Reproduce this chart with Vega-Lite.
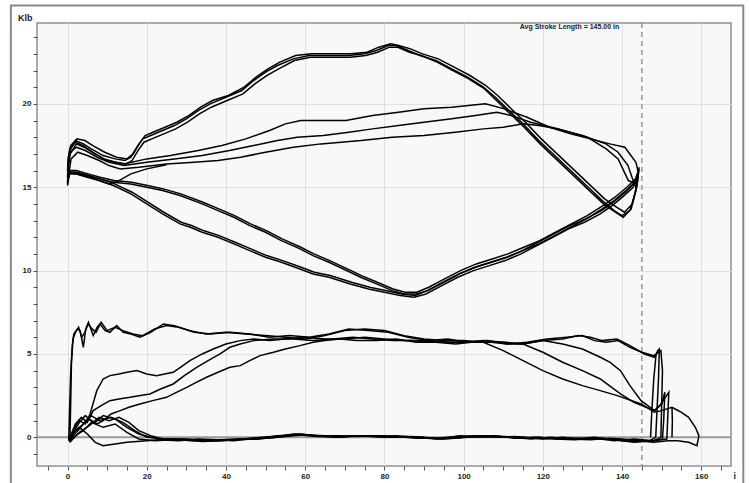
{
"$schema":"https://vega.github.io/schema/vega-lite/v6.json",
"width":694,"height":443,
"autosize":{"type":"none"},
"padding":{"left":37,"top":23,"right":18,"bottom":17},
"background":"#ffffff",
"config":{"view":{"stroke":"#8f8f8f","strokeWidth":1.5,"fill":"#f8f8f8"}},
"resolve":{"axis":{"x":"independent","y":"independent"}},
"datasets":{
"frame":[{"x":-14.3,"x2":170.6,"y":25.9,"y2":-4}],
"note":[{"label":"Avg Stroke Length = 145.00 in","x":139.3,"y":24.6}],
"zero":[{"y":0}],
"stroke":[{"x":145}],
"lines":[
{"s":"PK1","x":0,"y":15.2},{"s":"PK1","x":0.2,"y":16.4},{"s":"PK1","x":0.6,"y":17.2},{"s":"PK1","x":2,"y":17.8},{"s":"PK1","x":4,"y":17.6},{"s":"PK1","x":6,"y":17.3},{"s":"PK1","x":9,"y":16.9},{"s":"PK1","x":12,"y":16.7},{"s":"PK1","x":14.5,"y":16.6},{"s":"PK1","x":16,"y":16.8},{"s":"PK1","x":17.5,"y":17.4},{"s":"PK1","x":19,"y":17.9},{"s":"PK1","x":21,"y":18.1},{"s":"PK1","x":24,"y":18.4},{"s":"PK1","x":27,"y":18.7},{"s":"PK1","x":30,"y":19.1},{"s":"PK1","x":33,"y":19.6},{"s":"PK1","x":36,"y":20.0},{"s":"PK1","x":40,"y":20.4},{"s":"PK1","x":44,"y":20.8},{"s":"PK1","x":47,"y":21.4},{"s":"PK1","x":50,"y":21.9},{"s":"PK1","x":53,"y":22.3},{"s":"PK1","x":57,"y":22.7},{"s":"PK1","x":61,"y":22.9},{"s":"PK1","x":66,"y":22.9},{"s":"PK1","x":71,"y":22.9},{"s":"PK1","x":75,"y":23.0},{"s":"PK1","x":78,"y":23.2},{"s":"PK1","x":81,"y":23.5},{"s":"PK1","x":83,"y":23.5},{"s":"PK1","x":86,"y":23.2},{"s":"PK1","x":89,"y":22.9},{"s":"PK1","x":93,"y":22.6},{"s":"PK1","x":97,"y":22.1},{"s":"PK1","x":101,"y":21.6},{"s":"PK1","x":105,"y":21.0},{"s":"PK1","x":108,"y":20.4},{"s":"PK1","x":111,"y":19.7},{"s":"PK1","x":115,"y":18.8},{"s":"PK1","x":119,"y":17.8},{"s":"PK1","x":123,"y":16.9},{"s":"PK1","x":127,"y":16.0},{"s":"PK1","x":131,"y":15.1},{"s":"PK1","x":135,"y":14.2},{"s":"PK1","x":138,"y":13.6},{"s":"PK1","x":140,"y":13.3},{"s":"PK1","x":142,"y":13.6},{"s":"PK1","x":143.5,"y":14.8},{"s":"PK1","x":144,"y":15.8},
{"s":"PK2","x":0,"y":15.6},{"s":"PK2","x":0.2,"y":16.6},{"s":"PK2","x":0.7,"y":17.0},{"s":"PK2","x":2.2,"y":17.6},{"s":"PK2","x":4.2,"y":17.4},{"s":"PK2","x":6.2,"y":17.1},{"s":"PK2","x":9.2,"y":16.7},{"s":"PK2","x":12.2,"y":16.5},{"s":"PK2","x":14.8,"y":16.4},{"s":"PK2","x":16.3,"y":16.6},{"s":"PK2","x":17.8,"y":17.2},{"s":"PK2","x":19.3,"y":17.7},{"s":"PK2","x":21.3,"y":17.9},{"s":"PK2","x":24.3,"y":18.2},{"s":"PK2","x":27.3,"y":18.5},{"s":"PK2","x":30.3,"y":18.9},{"s":"PK2","x":33.3,"y":19.4},{"s":"PK2","x":36.3,"y":19.8},{"s":"PK2","x":40.3,"y":20.2},{"s":"PK2","x":44.3,"y":20.6},{"s":"PK2","x":47.3,"y":21.2},{"s":"PK2","x":50.3,"y":21.7},{"s":"PK2","x":53.3,"y":22.1},{"s":"PK2","x":57.3,"y":22.6},{"s":"PK2","x":61.3,"y":22.8},{"s":"PK2","x":66.3,"y":22.8},{"s":"PK2","x":71.3,"y":22.8},{"s":"PK2","x":75.3,"y":22.9},{"s":"PK2","x":78.3,"y":23.1},{"s":"PK2","x":81.3,"y":23.4},{"s":"PK2","x":83.3,"y":23.4},{"s":"PK2","x":86.3,"y":23.1},{"s":"PK2","x":89.3,"y":22.9},{"s":"PK2","x":93.3,"y":22.5},{"s":"PK2","x":97.3,"y":22.0},{"s":"PK2","x":101.3,"y":21.5},{"s":"PK2","x":105.3,"y":20.9},{"s":"PK2","x":108.3,"y":20.2},{"s":"PK2","x":111.3,"y":19.5},{"s":"PK2","x":115.3,"y":18.6},{"s":"PK2","x":119.3,"y":17.6},{"s":"PK2","x":123.3,"y":16.7},{"s":"PK2","x":127.3,"y":15.8},{"s":"PK2","x":131.3,"y":14.9},{"s":"PK2","x":135.3,"y":14.0},{"s":"PK2","x":138.3,"y":13.5},{"s":"PK2","x":140.3,"y":13.2},{"s":"PK2","x":142.3,"y":13.7},{"s":"PK2","x":143.7,"y":15.0},{"s":"PK2","x":144.2,"y":16.0},
{"s":"PK3","x":0,"y":16.0},{"s":"PK3","x":0.2,"y":16.8},{"s":"PK3","x":0.8,"y":17.5},{"s":"PK3","x":2.4,"y":17.9},{"s":"PK3","x":4.4,"y":17.8},{"s":"PK3","x":6.4,"y":17.5},{"s":"PK3","x":9.4,"y":17.1},{"s":"PK3","x":12.4,"y":16.8},{"s":"PK3","x":15,"y":16.7},{"s":"PK3","x":16.6,"y":17.0},{"s":"PK3","x":18.1,"y":17.6},{"s":"PK3","x":19.6,"y":18.1},{"s":"PK3","x":21.6,"y":18.3},{"s":"PK3","x":24.6,"y":18.6},{"s":"PK3","x":27.6,"y":18.9},{"s":"PK3","x":30.6,"y":19.3},{"s":"PK3","x":33.6,"y":19.8},{"s":"PK3","x":36.6,"y":20.2},{"s":"PK3","x":40.6,"y":20.5},{"s":"PK3","x":44.6,"y":21.0},{"s":"PK3","x":47.6,"y":21.6},{"s":"PK3","x":50.6,"y":22.1},{"s":"PK3","x":53.6,"y":22.5},{"s":"PK3","x":57.6,"y":22.9},{"s":"PK3","x":61.6,"y":23.0},{"s":"PK3","x":66.6,"y":23.0},{"s":"PK3","x":71.6,"y":23.0},{"s":"PK3","x":75.6,"y":23.1},{"s":"PK3","x":78.6,"y":23.4},{"s":"PK3","x":81.6,"y":23.6},{"s":"PK3","x":83.6,"y":23.5},{"s":"PK3","x":86.6,"y":23.3},{"s":"PK3","x":89.6,"y":23.0},{"s":"PK3","x":93.6,"y":22.7},{"s":"PK3","x":97.6,"y":22.2},{"s":"PK3","x":101.6,"y":21.7},{"s":"PK3","x":105.6,"y":21.1},{"s":"PK3","x":108.6,"y":20.5},{"s":"PK3","x":111.6,"y":19.8},{"s":"PK3","x":115.6,"y":18.9},{"s":"PK3","x":119.6,"y":17.9},{"s":"PK3","x":123.6,"y":17.0},{"s":"PK3","x":127.6,"y":16.1},{"s":"PK3","x":131.6,"y":15.2},{"s":"PK3","x":135.6,"y":14.3},{"s":"PK3","x":138.6,"y":13.8},{"s":"PK3","x":140.6,"y":13.5},{"s":"PK3","x":142.6,"y":14.0},{"s":"PK3","x":143.9,"y":15.3},{"s":"PK3","x":144.3,"y":16.2},
{"s":"TR1","x":144,"y":15.8},{"s":"TR1","x":143.2,"y":15.3},{"s":"TR1","x":141,"y":14.8},{"s":"TR1","x":138,"y":14.2},{"s":"TR1","x":135,"y":13.7},{"s":"TR1","x":131,"y":13.1},{"s":"TR1","x":127,"y":12.6},{"s":"TR1","x":123,"y":12.1},{"s":"TR1","x":119,"y":11.6},{"s":"TR1","x":115,"y":11.2},{"s":"TR1","x":111,"y":10.8},{"s":"TR1","x":107,"y":10.5},{"s":"TR1","x":103,"y":10.2},{"s":"TR1","x":99,"y":9.8},{"s":"TR1","x":95,"y":9.3},{"s":"TR1","x":91,"y":8.8},{"s":"TR1","x":88,"y":8.6},{"s":"TR1","x":85,"y":8.6},{"s":"TR1","x":82,"y":8.8},{"s":"TR1","x":78,"y":9.2},{"s":"TR1","x":74,"y":9.6},{"s":"TR1","x":71.4,"y":9.9},{"s":"TR1","x":66,"y":10.5},{"s":"TR1","x":62,"y":10.9},{"s":"TR1","x":58.7,"y":11.3},{"s":"TR1","x":54,"y":11.8},{"s":"TR1","x":50,"y":12.3},{"s":"TR1","x":46,"y":12.7},{"s":"TR1","x":42,"y":13.2},{"s":"TR1","x":38,"y":13.6},{"s":"TR1","x":34,"y":14.0},{"s":"TR1","x":28.4,"y":14.5},{"s":"TR1","x":24,"y":14.8},{"s":"TR1","x":20,"y":15.0},{"s":"TR1","x":16,"y":15.2},{"s":"TR1","x":11.6,"y":15.3},{"s":"TR1","x":8,"y":15.5},{"s":"TR1","x":5,"y":15.7},{"s":"TR1","x":2,"y":15.9},{"s":"TR1","x":0.5,"y":15.9},{"s":"TR1","x":0,"y":15.3},
{"s":"TR2","x":144.3,"y":16.1},{"s":"TR2","x":143.4,"y":15.5},{"s":"TR2","x":141.2,"y":15.0},{"s":"TR2","x":138.2,"y":14.4},{"s":"TR2","x":135.2,"y":13.9},{"s":"TR2","x":131.2,"y":13.3},{"s":"TR2","x":127.2,"y":12.8},{"s":"TR2","x":123.2,"y":12.3},{"s":"TR2","x":119.2,"y":11.8},{"s":"TR2","x":115.2,"y":11.4},{"s":"TR2","x":111.2,"y":11.0},{"s":"TR2","x":107.2,"y":10.7},{"s":"TR2","x":103.2,"y":10.4},{"s":"TR2","x":99.2,"y":10.0},{"s":"TR2","x":95.2,"y":9.5},{"s":"TR2","x":91.2,"y":9.0},{"s":"TR2","x":88.2,"y":8.7},{"s":"TR2","x":85.2,"y":8.7},{"s":"TR2","x":82.2,"y":8.9},{"s":"TR2","x":78.2,"y":9.3},{"s":"TR2","x":74.2,"y":9.7},{"s":"TR2","x":71.6,"y":10.0},{"s":"TR2","x":66.2,"y":10.6},{"s":"TR2","x":62.2,"y":11.0},{"s":"TR2","x":58.9,"y":11.4},{"s":"TR2","x":54.2,"y":11.9},{"s":"TR2","x":50.2,"y":12.4},{"s":"TR2","x":46.2,"y":12.8},{"s":"TR2","x":42.2,"y":13.3},{"s":"TR2","x":38.2,"y":13.7},{"s":"TR2","x":34.2,"y":14.1},{"s":"TR2","x":28.6,"y":14.6},{"s":"TR2","x":24.2,"y":14.9},{"s":"TR2","x":20.2,"y":15.1},{"s":"TR2","x":16.2,"y":15.3},{"s":"TR2","x":11.8,"y":15.4},{"s":"TR2","x":8.2,"y":15.6},{"s":"TR2","x":5.2,"y":15.8},{"s":"TR2","x":2.2,"y":16.0},{"s":"TR2","x":0.6,"y":16.0},{"s":"TR2","x":0,"y":15.6},
{"s":"TR3","x":143.8,"y":15.6},{"s":"TR3","x":142.8,"y":15.0},{"s":"TR3","x":140.5,"y":14.5},{"s":"TR3","x":137.5,"y":13.9},{"s":"TR3","x":134.5,"y":13.4},{"s":"TR3","x":130.5,"y":12.9},{"s":"TR3","x":126.5,"y":12.5},{"s":"TR3","x":122.5,"y":12.0},{"s":"TR3","x":118.5,"y":11.5},{"s":"TR3","x":114.5,"y":11.0},{"s":"TR3","x":110.5,"y":10.6},{"s":"TR3","x":106.5,"y":10.3},{"s":"TR3","x":102.5,"y":10.0},{"s":"TR3","x":98.5,"y":9.6},{"s":"TR3","x":94.5,"y":9.1},{"s":"TR3","x":90.5,"y":8.6},{"s":"TR3","x":87.5,"y":8.4},{"s":"TR3","x":84,"y":8.5},{"s":"TR3","x":80,"y":8.7},{"s":"TR3","x":76,"y":8.9},{"s":"TR3","x":71.4,"y":9.2},{"s":"TR3","x":66,"y":9.6},{"s":"TR3","x":62,"y":9.8},{"s":"TR3","x":58.7,"y":10.1},{"s":"TR3","x":54,"y":10.5},{"s":"TR3","x":50,"y":10.8},{"s":"TR3","x":46,"y":11.2},{"s":"TR3","x":42,"y":11.6},{"s":"TR3","x":38,"y":12.0},{"s":"TR3","x":34,"y":12.3},{"s":"TR3","x":31,"y":12.6},{"s":"TR3","x":28.4,"y":12.8},{"s":"TR3","x":24,"y":13.4},{"s":"TR3","x":20,"y":14.0},{"s":"TR3","x":16,"y":14.6},{"s":"TR3","x":11.6,"y":15.1},{"s":"TR3","x":8,"y":15.4},{"s":"TR3","x":5,"y":15.6},{"s":"TR3","x":2,"y":15.8},{"s":"TR3","x":0.5,"y":15.8},{"s":"TR3","x":0,"y":15.1},
{"s":"TR4","x":144.1,"y":15.9},{"s":"TR4","x":143,"y":15.2},{"s":"TR4","x":140.8,"y":14.7},{"s":"TR4","x":137.8,"y":14.1},{"s":"TR4","x":134.8,"y":13.6},{"s":"TR4","x":130.8,"y":13.1},{"s":"TR4","x":126.8,"y":12.7},{"s":"TR4","x":122.8,"y":12.2},{"s":"TR4","x":118.8,"y":11.7},{"s":"TR4","x":114.8,"y":11.2},{"s":"TR4","x":110.8,"y":10.8},{"s":"TR4","x":106.8,"y":10.5},{"s":"TR4","x":102.8,"y":10.2},{"s":"TR4","x":98.8,"y":9.8},{"s":"TR4","x":94.8,"y":9.3},{"s":"TR4","x":90.8,"y":8.8},{"s":"TR4","x":87.8,"y":8.5},{"s":"TR4","x":84.3,"y":8.6},{"s":"TR4","x":80.3,"y":8.8},{"s":"TR4","x":76.3,"y":9.0},{"s":"TR4","x":71.7,"y":9.3},{"s":"TR4","x":66.3,"y":9.7},{"s":"TR4","x":62.3,"y":9.9},{"s":"TR4","x":59,"y":10.2},{"s":"TR4","x":54.3,"y":10.6},{"s":"TR4","x":50.3,"y":10.9},{"s":"TR4","x":46.3,"y":11.3},{"s":"TR4","x":42.3,"y":11.7},{"s":"TR4","x":38.3,"y":12.1},{"s":"TR4","x":34.3,"y":12.4},{"s":"TR4","x":31.3,"y":12.7},{"s":"TR4","x":28.7,"y":12.9},{"s":"TR4","x":24.3,"y":13.5},{"s":"TR4","x":20.3,"y":14.1},{"s":"TR4","x":16.3,"y":14.7},{"s":"TR4","x":11.9,"y":15.2},{"s":"TR4","x":8.3,"y":15.5},{"s":"TR4","x":5.3,"y":15.7},{"s":"TR4","x":2.3,"y":15.9},{"s":"TR4","x":0.7,"y":15.9},{"s":"TR4","x":0,"y":15.4},
{"s":"L1","x":0.2,"y":16.6},{"s":"L1","x":0.6,"y":17.3},{"s":"L1","x":2,"y":17.7},{"s":"L1","x":4,"y":17.5},{"s":"L1","x":7,"y":17.0},{"s":"L1","x":10,"y":16.6},{"s":"L1","x":14.3,"y":16.4},{"s":"L1","x":20,"y":16.7},{"s":"L1","x":26,"y":16.9},{"s":"L1","x":33,"y":17.2},{"s":"L1","x":39,"y":17.5},{"s":"L1","x":45,"y":17.9},{"s":"L1","x":51,"y":18.4},{"s":"L1","x":55,"y":18.8},{"s":"L1","x":58.9,"y":19.0},{"s":"L1","x":64,"y":19.0},{"s":"L1","x":70.3,"y":19.0},{"s":"L1","x":77,"y":19.3},{"s":"L1","x":83.6,"y":19.5},{"s":"L1","x":90,"y":19.7},{"s":"L1","x":97,"y":19.8},{"s":"L1","x":105.5,"y":20.0},{"s":"L1","x":110.3,"y":19.7},{"s":"L1","x":116,"y":19.2},{"s":"L1","x":121.7,"y":18.6},{"s":"L1","x":127,"y":18.2},{"s":"L1","x":132,"y":17.9},{"s":"L1","x":136.9,"y":17.6},{"s":"L1","x":140.7,"y":17.4},{"s":"L1","x":143.5,"y":16.5},{"s":"L1","x":144,"y":16.0},{"s":"L1","x":143.8,"y":15.4},
{"s":"L2","x":0.3,"y":16.3},{"s":"L2","x":0.7,"y":17.1},{"s":"L2","x":2.2,"y":17.4},{"s":"L2","x":4.5,"y":17.2},{"s":"L2","x":7.5,"y":16.8},{"s":"L2","x":10.5,"y":16.5},{"s":"L2","x":14.3,"y":16.3},{"s":"L2","x":20,"y":16.5},{"s":"L2","x":27,"y":16.7},{"s":"L2","x":34,"y":16.9},{"s":"L2","x":40.9,"y":17.2},{"s":"L2","x":47,"y":17.5},{"s":"L2","x":53,"y":17.8},{"s":"L2","x":58,"y":18.0},{"s":"L2","x":64.6,"y":18.1},{"s":"L2","x":71,"y":18.3},{"s":"L2","x":77,"y":18.5},{"s":"L2","x":83.6,"y":18.7},{"s":"L2","x":90,"y":18.9},{"s":"L2","x":97,"y":19.1},{"s":"L2","x":103,"y":19.3},{"s":"L2","x":108.4,"y":19.5},{"s":"L2","x":112,"y":19.3},{"s":"L2","x":116.9,"y":18.9},{"s":"L2","x":124,"y":18.5},{"s":"L2","x":131.2,"y":18.0},{"s":"L2","x":136,"y":17.3},{"s":"L2","x":139,"y":16.7},{"s":"L2","x":141.6,"y":15.4},{"s":"L2","x":143.5,"y":15.2},
{"s":"L3","x":0.4,"y":15.9},{"s":"L3","x":0.9,"y":16.7},{"s":"L3","x":2.6,"y":17.1},{"s":"L3","x":5,"y":16.9},{"s":"L3","x":8,"y":16.6},{"s":"L3","x":10.5,"y":16.3},{"s":"L3","x":13.3,"y":16.1},{"s":"L3","x":18,"y":16.2},{"s":"L3","x":25,"y":16.4},{"s":"L3","x":32,"y":16.5},{"s":"L3","x":38,"y":16.6},{"s":"L3","x":43.7,"y":16.8},{"s":"L3","x":50,"y":17.1},{"s":"L3","x":57,"y":17.4},{"s":"L3","x":64,"y":17.6},{"s":"L3","x":74.1,"y":17.8},{"s":"L3","x":82,"y":18.0},{"s":"L3","x":90,"y":18.1},{"s":"L3","x":97.9,"y":18.3},{"s":"L3","x":105,"y":18.5},{"s":"L3","x":110,"y":18.6},{"s":"L3","x":115,"y":18.8},{"s":"L3","x":119,"y":18.7},{"s":"L3","x":123.6,"y":18.5},{"s":"L3","x":130,"y":18.1},{"s":"L3","x":135.9,"y":17.6},{"s":"L3","x":139,"y":17.1},{"s":"L3","x":141.5,"y":16.3},{"s":"L3","x":142.5,"y":15.6},{"s":"L3","x":143.5,"y":15.0},
{"s":"X1","x":0.5,"y":15.9},{"s":"X1","x":4,"y":15.7},{"s":"X1","x":8,"y":15.4},{"s":"X1","x":10.5,"y":15.2},{"s":"X1","x":13,"y":15.4},{"s":"X1","x":16,"y":15.8},{"s":"X1","x":20,"y":16.1},{"s":"X1","x":25,"y":16.35},
{"s":"PT1","x":0.3,"y":-0.2},{"s":"PT1","x":0.5,"y":1.5},{"s":"PT1","x":0.8,"y":3.8},{"s":"PT1","x":1.2,"y":5.5},{"s":"PT1","x":1.6,"y":6.2},{"s":"PT1","x":2.5,"y":6.5},{"s":"PT1","x":3.2,"y":6.4},{"s":"PT1","x":4,"y":5.4},{"s":"PT1","x":4.6,"y":6.5},{"s":"PT1","x":5.3,"y":6.9},{"s":"PT1","x":6.5,"y":6.1},{"s":"PT1","x":7.5,"y":6.6},{"s":"PT1","x":8.2,"y":6.8},{"s":"PT1","x":9.5,"y":6.4},{"s":"PT1","x":10.7,"y":6.3},{"s":"PT1","x":12.4,"y":6.7},{"s":"PT1","x":14.1,"y":6.3},{"s":"PT1","x":16,"y":6.2},{"s":"PT1","x":18.3,"y":6.0},{"s":"PT1","x":21,"y":6.3},{"s":"PT1","x":24.2,"y":6.8},{"s":"PT1","x":27,"y":6.7},{"s":"PT1","x":30.9,"y":6.4},{"s":"PT1","x":35,"y":6.2},{"s":"PT1","x":40,"y":6.3},{"s":"PT1","x":45,"y":6.2},{"s":"PT1","x":50,"y":6.1},{"s":"PT1","x":55,"y":6.0},{"s":"PT1","x":60,"y":5.9},{"s":"PT1","x":65,"y":6.1},{"s":"PT1","x":70,"y":6.4},{"s":"PT1","x":75,"y":6.5},{"s":"PT1","x":80,"y":6.4},{"s":"PT1","x":85,"y":6.1},{"s":"PT1","x":90,"y":5.9},{"s":"PT1","x":95,"y":5.8},{"s":"PT1","x":100,"y":5.8},{"s":"PT1","x":105,"y":5.7},{"s":"PT1","x":110,"y":5.7},{"s":"PT1","x":115,"y":5.6},{"s":"PT1","x":120,"y":5.8},{"s":"PT1","x":125,"y":5.9},{"s":"PT1","x":129,"y":6.1},{"s":"PT1","x":132,"y":6.0},{"s":"PT1","x":135,"y":5.8},{"s":"PT1","x":138.7,"y":5.9},{"s":"PT1","x":142,"y":5.5},{"s":"PT1","x":145.6,"y":5.0},{"s":"PT1","x":148.2,"y":4.8},{"s":"PT1","x":149,"y":5.2},{"s":"PT1","x":149.4,"y":5.3},{"s":"PT1","x":149.2,"y":3.5},{"s":"PT1","x":148.8,"y":1.5},{"s":"PT1","x":148.5,"y":0.0},{"s":"PT1","x":147,"y":-0.2},{"s":"PT1","x":144,"y":-0.25},{"s":"PT1","x":140,"y":-0.2},{"s":"PT1","x":135,"y":-0.05},{"s":"PT1","x":130,"y":-0.1},{"s":"PT1","x":125,"y":0.0},{"s":"PT1","x":120,"y":-0.1},{"s":"PT1","x":115,"y":0.0},{"s":"PT1","x":110,"y":0.05},{"s":"PT1","x":105,"y":0.1},{"s":"PT1","x":100,"y":0.0},{"s":"PT1","x":95,"y":-0.1},{"s":"PT1","x":90,"y":0.0},{"s":"PT1","x":85,"y":0.05},{"s":"PT1","x":80,"y":0.0},{"s":"PT1","x":75,"y":0.1},{"s":"PT1","x":70,"y":0.05},{"s":"PT1","x":65,"y":0.1},{"s":"PT1","x":60,"y":0.15},{"s":"PT1","x":55,"y":0.05},{"s":"PT1","x":50,"y":-0.05},{"s":"PT1","x":45,"y":-0.1},{"s":"PT1","x":40,"y":-0.15},{"s":"PT1","x":35,"y":-0.2},{"s":"PT1","x":30,"y":-0.1},{"s":"PT1","x":25,"y":-0.1},{"s":"PT1","x":20,"y":0.0},{"s":"PT1","x":17,"y":0.4},{"s":"PT1","x":14,"y":0.9},{"s":"PT1","x":11,"y":1.2},{"s":"PT1","x":8,"y":1.0},{"s":"PT1","x":6,"y":1.3},{"s":"PT1","x":4,"y":0.8},{"s":"PT1","x":2,"y":0.4},{"s":"PT1","x":0.3,"y":-0.2},
{"s":"PT2","x":0.6,"y":-0.3},{"s":"PT2","x":0.8,"y":2.0},{"s":"PT2","x":1.0,"y":4.5},{"s":"PT2","x":1.4,"y":5.9},{"s":"PT2","x":2,"y":6.3},{"s":"PT2","x":2.8,"y":6.6},{"s":"PT2","x":3.6,"y":6.0},{"s":"PT2","x":4.4,"y":6.3},{"s":"PT2","x":5.2,"y":6.8},{"s":"PT2","x":6.2,"y":6.5},{"s":"PT2","x":7.2,"y":6.3},{"s":"PT2","x":8.5,"y":6.9},{"s":"PT2","x":10,"y":6.4},{"s":"PT2","x":12,"y":6.6},{"s":"PT2","x":14,"y":6.4},{"s":"PT2","x":16.5,"y":6.2},{"s":"PT2","x":19,"y":6.1},{"s":"PT2","x":22,"y":6.5},{"s":"PT2","x":25,"y":6.7},{"s":"PT2","x":28,"y":6.6},{"s":"PT2","x":32,"y":6.3},{"s":"PT2","x":36,"y":6.2},{"s":"PT2","x":41,"y":6.3},{"s":"PT2","x":46,"y":6.2},{"s":"PT2","x":51,"y":6.0},{"s":"PT2","x":56,"y":6.1},{"s":"PT2","x":61,"y":6.0},{"s":"PT2","x":66,"y":6.2},{"s":"PT2","x":71,"y":6.5},{"s":"PT2","x":76,"y":6.4},{"s":"PT2","x":81,"y":6.3},{"s":"PT2","x":86,"y":6.0},{"s":"PT2","x":91,"y":5.8},{"s":"PT2","x":96,"y":5.9},{"s":"PT2","x":101,"y":5.7},{"s":"PT2","x":106,"y":5.8},{"s":"PT2","x":111,"y":5.6},{"s":"PT2","x":116,"y":5.7},{"s":"PT2","x":121,"y":5.9},{"s":"PT2","x":126,"y":6.0},{"s":"PT2","x":130,"y":6.1},{"s":"PT2","x":133,"y":5.8},{"s":"PT2","x":136,"y":5.7},{"s":"PT2","x":139,"y":5.8},{"s":"PT2","x":142,"y":5.4},{"s":"PT2","x":145,"y":5.1},{"s":"PT2","x":148,"y":4.9},{"s":"PT2","x":149.8,"y":5.2},{"s":"PT2","x":150.2,"y":4.0},{"s":"PT2","x":150,"y":2.0},{"s":"PT2","x":149.8,"y":0.0},{"s":"PT2","x":148,"y":-0.2},{"s":"PT2","x":143,"y":-0.3},{"s":"PT2","x":138,"y":-0.15},{"s":"PT2","x":133,"y":0.0},{"s":"PT2","x":128,"y":-0.1},{"s":"PT2","x":123,"y":-0.05},{"s":"PT2","x":118,"y":0.0},{"s":"PT2","x":113,"y":-0.05},{"s":"PT2","x":108,"y":0.1},{"s":"PT2","x":103,"y":0.05},{"s":"PT2","x":98,"y":-0.05},{"s":"PT2","x":93,"y":-0.1},{"s":"PT2","x":88,"y":0.0},{"s":"PT2","x":83,"y":0.1},{"s":"PT2","x":78,"y":0.05},{"s":"PT2","x":73,"y":0.1},{"s":"PT2","x":68,"y":0.0},{"s":"PT2","x":63,"y":0.1},{"s":"PT2","x":58,"y":0.2},{"s":"PT2","x":53,"y":0.0},{"s":"PT2","x":48,"y":-0.1},{"s":"PT2","x":43,"y":-0.15},{"s":"PT2","x":38,"y":-0.2},{"s":"PT2","x":33,"y":-0.15},{"s":"PT2","x":28,"y":-0.1},{"s":"PT2","x":23,"y":-0.1},{"s":"PT2","x":18,"y":0.2},{"s":"PT2","x":15,"y":0.6},{"s":"PT2","x":12,"y":1.1},{"s":"PT2","x":9,"y":1.3},{"s":"PT2","x":7,"y":0.9},{"s":"PT2","x":5,"y":1.1},{"s":"PT2","x":3,"y":0.5},{"s":"PT2","x":1,"y":0.0},{"s":"PT2","x":0.6,"y":-0.3},
{"s":"F1","x":0.4,"y":-0.2},{"s":"F1","x":1.5,"y":0.5},{"s":"F1","x":3,"y":1.0},{"s":"F1","x":4.5,"y":0.8},{"s":"F1","x":5.7,"y":1.4},{"s":"F1","x":7.4,"y":2.8},{"s":"F1","x":9,"y":3.5},{"s":"F1","x":10.7,"y":3.7},{"s":"F1","x":13,"y":3.8},{"s":"F1","x":15,"y":3.9},{"s":"F1","x":17.5,"y":4.0},{"s":"F1","x":20,"y":3.8},{"s":"F1","x":22.5,"y":3.7},{"s":"F1","x":24.5,"y":3.8},{"s":"F1","x":26.7,"y":3.9},{"s":"F1","x":28.5,"y":4.2},{"s":"F1","x":30.9,"y":4.6},{"s":"F1","x":34,"y":5.0},{"s":"F1","x":36.8,"y":5.3},{"s":"F1","x":40,"y":5.6},{"s":"F1","x":43.6,"y":5.8},{"s":"F1","x":47,"y":5.9},{"s":"F1","x":51,"y":5.8},{"s":"F1","x":55,"y":5.9},{"s":"F1","x":60,"y":6.0},{"s":"F1","x":65,"y":5.9},{"s":"F1","x":70,"y":5.9},{"s":"F1","x":75,"y":6.0},{"s":"F1","x":80,"y":5.9},{"s":"F1","x":85,"y":5.8},{"s":"F1","x":90,"y":5.8},{"s":"F1","x":95,"y":5.7},{"s":"F1","x":100,"y":5.7},{"s":"F1","x":105,"y":5.8},{"s":"F1","x":110,"y":5.7},{"s":"F1","x":115,"y":5.6},{"s":"F1","x":120,"y":5.8},{"s":"F1","x":125,"y":5.6},{"s":"F1","x":130,"y":5.3},{"s":"F1","x":134.5,"y":4.8},{"s":"F1","x":137,"y":4.5},{"s":"F1","x":139.6,"y":4.0},{"s":"F1","x":142,"y":3.1},{"s":"F1","x":144.8,"y":2.2},{"s":"F1","x":148.2,"y":1.6},{"s":"F1","x":150,"y":2.0},{"s":"F1","x":150.8,"y":2.7},{"s":"F1","x":150.5,"y":1.0},{"s":"F1","x":150.2,"y":-0.1},{"s":"F1","x":147,"y":-0.25},{"s":"F1","x":142,"y":-0.15},{"s":"F1","x":137,"y":-0.05},{"s":"F1","x":132,"y":-0.15},{"s":"F1","x":127,"y":-0.1},{"s":"F1","x":122,"y":0.0},{"s":"F1","x":117,"y":-0.1},{"s":"F1","x":112,"y":0.0},{"s":"F1","x":107,"y":0.05},{"s":"F1","x":102,"y":0.05},{"s":"F1","x":97,"y":-0.05},{"s":"F1","x":92,"y":-0.05},{"s":"F1","x":87,"y":0.05},{"s":"F1","x":82,"y":0.0},{"s":"F1","x":77,"y":0.05},{"s":"F1","x":72,"y":0.1},{"s":"F1","x":67,"y":0.05},{"s":"F1","x":62,"y":0.1},{"s":"F1","x":57,"y":0.2},{"s":"F1","x":52,"y":0.0},{"s":"F1","x":47,"y":-0.05},{"s":"F1","x":42,"y":-0.2},{"s":"F1","x":37,"y":-0.15},{"s":"F1","x":32,"y":-0.2},{"s":"F1","x":27,"y":-0.15},{"s":"F1","x":22,"y":-0.2},{"s":"F1","x":18,"y":-0.1},{"s":"F1","x":15,"y":0.3},{"s":"F1","x":12,"y":0.8},{"s":"F1","x":9,"y":0.6},{"s":"F1","x":6,"y":0.9},{"s":"F1","x":4,"y":0.4},{"s":"F1","x":2,"y":0.1},{"s":"F1","x":0.4,"y":-0.2},
{"s":"F2","x":0.5,"y":-0.1},{"s":"F2","x":2,"y":0.8},{"s":"F2","x":3.5,"y":1.2},{"s":"F2","x":5,"y":0.9},{"s":"F2","x":6.5,"y":1.6},{"s":"F2","x":8.5,"y":1.9},{"s":"F2","x":10.7,"y":2.2},{"s":"F2","x":13,"y":2.3},{"s":"F2","x":15.8,"y":2.4},{"s":"F2","x":18,"y":2.5},{"s":"F2","x":20.8,"y":2.6},{"s":"F2","x":23.5,"y":2.9},{"s":"F2","x":26.7,"y":3.2},{"s":"F2","x":29.5,"y":3.7},{"s":"F2","x":32.6,"y":4.2},{"s":"F2","x":35.5,"y":4.6},{"s":"F2","x":38.5,"y":5.0},{"s":"F2","x":41,"y":5.4},{"s":"F2","x":43.6,"y":5.6},{"s":"F2","x":47,"y":5.8},{"s":"F2","x":52,"y":5.9},{"s":"F2","x":57,"y":5.9},{"s":"F2","x":62,"y":5.8},{"s":"F2","x":67,"y":5.9},{"s":"F2","x":72,"y":6.0},{"s":"F2","x":77,"y":5.9},{"s":"F2","x":82,"y":5.8},{"s":"F2","x":87,"y":5.8},{"s":"F2","x":92,"y":5.7},{"s":"F2","x":97,"y":5.8},{"s":"F2","x":102,"y":5.7},{"s":"F2","x":107,"y":5.7},{"s":"F2","x":111,"y":5.6},{"s":"F2","x":115,"y":5.6},{"s":"F2","x":120,"y":5.1},{"s":"F2","x":125,"y":4.5},{"s":"F2","x":130,"y":4.0},{"s":"F2","x":134.5,"y":3.5},{"s":"F2","x":139.6,"y":2.6},{"s":"F2","x":143,"y":2.1},{"s":"F2","x":148.2,"y":1.6},{"s":"F2","x":149.5,"y":1.9},{"s":"F2","x":151.8,"y":2.7},{"s":"F2","x":151.5,"y":1.0},{"s":"F2","x":151.3,"y":-0.1},{"s":"F2","x":148,"y":-0.2},{"s":"F2","x":143,"y":-0.1},{"s":"F2","x":138,"y":-0.2},{"s":"F2","x":133,"y":-0.05},{"s":"F2","x":128,"y":-0.15},{"s":"F2","x":123,"y":-0.1},{"s":"F2","x":118,"y":-0.05},{"s":"F2","x":113,"y":0.05},{"s":"F2","x":108,"y":0.0},{"s":"F2","x":103,"y":0.1},{"s":"F2","x":98,"y":0.05},{"s":"F2","x":93,"y":-0.05},{"s":"F2","x":88,"y":-0.05},{"s":"F2","x":83,"y":0.05},{"s":"F2","x":78,"y":0.1},{"s":"F2","x":73,"y":0.05},{"s":"F2","x":68,"y":0.1},{"s":"F2","x":63,"y":0.05},{"s":"F2","x":58,"y":0.15},{"s":"F2","x":53,"y":0.1},{"s":"F2","x":48,"y":-0.1},{"s":"F2","x":43,"y":-0.1},{"s":"F2","x":38,"y":-0.15},{"s":"F2","x":33,"y":-0.1},{"s":"F2","x":28,"y":-0.2},{"s":"F2","x":23,"y":-0.15},{"s":"F2","x":20,"y":-0.2},{"s":"F2","x":15,"y":-0.3},{"s":"F2","x":12,"y":-0.4},{"s":"F2","x":9,"y":-0.5},{"s":"F2","x":7,"y":-0.3},{"s":"F2","x":5,"y":0.2},{"s":"F2","x":3,"y":0.6},{"s":"F2","x":1,"y":0.2},{"s":"F2","x":0.5,"y":-0.1},
{"s":"F3","x":0.6,"y":-0.3},{"s":"F3","x":1.5,"y":0.3},{"s":"F3","x":3,"y":0.9},{"s":"F3","x":4.5,"y":1.3},{"s":"F3","x":6,"y":1.0},{"s":"F3","x":7.5,"y":0.8},{"s":"F3","x":9,"y":1.0},{"s":"F3","x":11,"y":1.4},{"s":"F3","x":13.3,"y":1.6},{"s":"F3","x":15.5,"y":1.8},{"s":"F3","x":18.3,"y":2.0},{"s":"F3","x":21.5,"y":2.2},{"s":"F3","x":25,"y":2.4},{"s":"F3","x":27.5,"y":2.7},{"s":"F3","x":30.1,"y":3.0},{"s":"F3","x":32.5,"y":3.3},{"s":"F3","x":35.1,"y":3.6},{"s":"F3","x":38,"y":3.9},{"s":"F3","x":41,"y":4.2},{"s":"F3","x":43.6,"y":4.3},{"s":"F3","x":46,"y":4.6},{"s":"F3","x":48.6,"y":4.9},{"s":"F3","x":52,"y":5.1},{"s":"F3","x":55,"y":5.3},{"s":"F3","x":58.7,"y":5.5},{"s":"F3","x":62,"y":5.7},{"s":"F3","x":65,"y":5.8},{"s":"F3","x":68.8,"y":5.9},{"s":"F3","x":73,"y":5.8},{"s":"F3","x":78,"y":5.8},{"s":"F3","x":83,"y":5.9},{"s":"F3","x":88,"y":5.7},{"s":"F3","x":93,"y":5.7},{"s":"F3","x":98,"y":5.6},{"s":"F3","x":102,"y":5.7},{"s":"F3","x":105,"y":5.7},{"s":"F3","x":110,"y":5.2},{"s":"F3","x":115,"y":4.6},{"s":"F3","x":120,"y":4.0},{"s":"F3","x":125,"y":3.5},{"s":"F3","x":130,"y":3.1},{"s":"F3","x":134.5,"y":2.8},{"s":"F3","x":138.8,"y":2.5},{"s":"F3","x":144.8,"y":2.0},{"s":"F3","x":148.2,"y":1.5},{"s":"F3","x":150,"y":1.6},{"s":"F3","x":152.6,"y":1.8},{"s":"F3","x":153.4,"y":1.7},{"s":"F3","x":155,"y":1.5},{"s":"F3","x":156.8,"y":1.2},{"s":"F3","x":158.5,"y":0.6},{"s":"F3","x":159.4,"y":0.1},{"s":"F3","x":158.9,"y":-0.5},{"s":"F3","x":156.8,"y":-0.3},{"s":"F3","x":154,"y":-0.2},{"s":"F3","x":151.6,"y":-0.2},{"s":"F3","x":148,"y":-0.3},{"s":"F3","x":144,"y":-0.2},{"s":"F3","x":139,"y":-0.1},{"s":"F3","x":134,"y":-0.1},{"s":"F3","x":129,"y":-0.05},{"s":"F3","x":124,"y":-0.1},{"s":"F3","x":119,"y":0.0},{"s":"F3","x":114,"y":-0.05},{"s":"F3","x":109,"y":0.05},{"s":"F3","x":104,"y":0.0},{"s":"F3","x":99,"y":0.1},{"s":"F3","x":94,"y":-0.1},{"s":"F3","x":89,"y":0.0},{"s":"F3","x":84,"y":0.0},{"s":"F3","x":79,"y":0.1},{"s":"F3","x":74,"y":0.1},{"s":"F3","x":69,"y":0.0},{"s":"F3","x":64,"y":0.05},{"s":"F3","x":59,"y":0.2},{"s":"F3","x":54,"y":0.1},{"s":"F3","x":49,"y":0.0},{"s":"F3","x":44,"y":-0.1},{"s":"F3","x":39,"y":-0.2},{"s":"F3","x":34,"y":-0.25},{"s":"F3","x":29,"y":-0.15},{"s":"F3","x":24,"y":-0.1},{"s":"F3","x":21,"y":0.1},{"s":"F3","x":18,"y":0.4},{"s":"F3","x":15.5,"y":0.9},{"s":"F3","x":13,"y":1.2},{"s":"F3","x":10.5,"y":1.0},{"s":"F3","x":8,"y":1.2},{"s":"F3","x":5.5,"y":0.7},{"s":"F3","x":3,"y":0.3},{"s":"F3","x":0.6,"y":-0.3},
{"s":"S1","x":148.6,"y":5.0},{"s":"S1","x":148.0,"y":3.5},{"s":"S1","x":147.5,"y":1.5},{"s":"S1","x":147.2,"y":0.0},
{"s":"S2","x":152.6,"y":1.8},{"s":"S2","x":152.7,"y":1.0},{"s":"S2","x":152.6,"y":0.0}
]},
"layer":[
{"data":{"name":"frame"},"mark":{"type":"rect","fillOpacity":0,"stroke":"#8a8a8a","strokeWidth":2,"clip":false},
 "encoding":{"x":{"field":"x","type":"quantitative","scale":{"domain":[-7.7,167.5],"nice":false,"zero":false},"axis":null},"x2":{"field":"x2"},
 "y":{"field":"y","type":"quantitative","scale":{"domain":[-1.72,24.85],"nice":false,"zero":false},"axis":null},"y2":{"field":"y2"}}},
{"data":{"name":"zero"},"mark":{"type":"rule","color":"#9a9a9a","strokeWidth":2},
 "encoding":{"y":{"field":"y","type":"quantitative","scale":{"domain":[-1.72,24.85],"nice":false,"zero":false},"axis":null}}},
{"data":{"name":"stroke"},"mark":{"type":"rule","color":"#808080","strokeWidth":1.2,"strokeDash":[5,4]},
 "encoding":{"x":{"field":"x","type":"quantitative","scale":{"domain":[-7.7,167.5],"nice":false,"zero":false},"axis":null}}},
{"data":{"name":"lines"},"mark":{"type":"line","color":"#000000","strokeWidth":1.5},
 "encoding":{
  "x":{"field":"x","type":"quantitative","scale":{"domain":[-7.7,167.5],"nice":false,"zero":false},
   "axis":{"title":"i","titleAngle":0,"titleAlign":"left","titleBaseline":"alphabetic","titleX":696,"titleY":12,"titleFont":"Liberation Sans","titleFontSize":9,"titleFontWeight":"bold","titleColor":"#222222",
    "values":[-5,0,5,10,15,20,25,30,35,40,45,50,55,60,65,70,75,80,85,90,95,100,105,110,115,120,125,130,135,140,145,150,155,160,165],
    "labelExpr":"datum.value % 20 === 0 ? datum.label : ''","labelOverlap":false,"labelFlush":false,
    "labelFont":"Liberation Sans","labelFontSize":8,"labelFontWeight":"bold","labelColor":"#222222","labelPadding":2,
    "domain":false,"tickSize":4,"tickColor":"#555555","grid":true,"gridColor":"#e0e0e0",
    "gridOpacity":{"condition":{"test":"datum.value % 20 === 0","value":1},"value":0}}},
  "y":{"field":"y","type":"quantitative","scale":{"domain":[-1.72,24.85],"nice":false,"zero":false},
   "axis":{"title":"Klb","titleAngle":0,"titleAlign":"right","titleBaseline":"alphabetic","titleX":-5,"titleY":-3,"titleFont":"Liberation Sans","titleFontSize":9,"titleFontWeight":"bold","titleColor":"#222222",
    "values":[-1,0,1,2,3,4,5,6,7,8,9,10,11,12,13,14,15,16,17,18,19,20,21,22,23,24],
    "labelExpr":"datum.value % 5 === 0 ? datum.label : ''","labelOverlap":false,"labelFlush":false,
    "labelFont":"Liberation Sans","labelFontSize":8,"labelFontWeight":"bold","labelColor":"#222222","labelPadding":2,
    "domain":false,"tickSize":4,"tickColor":"#555555","grid":true,"gridColor":"#e0e0e0",
    "gridOpacity":{"condition":{"test":"datum.value % 5 === 0 && datum.value !== 0","value":1},"value":0}}},
  "detail":{"field":"s"},
  "order":{"value":null}}},
{"data":{"name":"note"},"mark":{"type":"text","align":"right","baseline":"middle","font":"Liberation Sans","fontSize":7,"fontWeight":"bold","color":"#222222"},
 "encoding":{"x":{"field":"x","type":"quantitative","scale":{"domain":[-7.7,167.5],"nice":false,"zero":false},"axis":null},
 "y":{"field":"y","type":"quantitative","scale":{"domain":[-1.72,24.85],"nice":false,"zero":false},"axis":null},"text":{"field":"label"}}}
]
}
